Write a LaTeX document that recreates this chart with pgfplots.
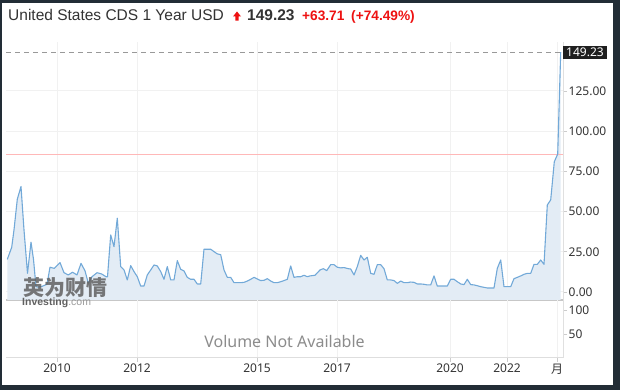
\documentclass[border=0pt]{standalone}
\usepackage{pgfplots}
\pgfplotsset{compat=1.18}
\usepackage{pgfplotstable}
\usepackage{fontspec}
\setmainfont{Liberation Sans}
\newfontfamily\notos{Noto Sans}
\newfontfamily\cjk{Noto Sans CJK SC}

\definecolor{framecol}{HTML}{222D36}
\definecolor{linecol}{HTML}{72A9D8}
\definecolor{areacol}{HTML}{E3ECF5}
\definecolor{gridcol}{HTML}{F1F1F1}
\definecolor{txt}{HTML}{333333}
\definecolor{upred}{HTML}{EE1111}
\definecolor{refred}{HTML}{FFB8B8}

\pgfplotstableread{
x y
7.3 20.3
11.7 27.8
14 38.6
17.3 57.7
21 65.6
24 38.6
27.5 11.6
31 31
33.5 20.3
36 3.3
38 3.0
42 3.5
47 4.8
50 15.4
54.3 14.7
60 18.3
64 12
68.3 10.6
72.5 12.3
77 10.6
81 17.8
85 13.2
88.3 5.5
92 9.5
97 12
101.7 11.2
106 9.5
107.5 9.5
110.7 35.5
114 28.2
117.3 45.9
120.7 15.8
124 13.7
127.3 7.5
130.7 16.4
134 12.7
137.3 9.5
140.7 3.7
144 3.7
147.3 10.6
150.7 13.7
154 16.8
157.3 16.2
160.7 12.7
164 7.9
167.3 15.8
170.7 7.5
174 7.5
177.3 19.5
180.7 14.1
184 13.1
187.3 9.1
190.7 7.9
194 7.9
197.3 5
200.7 5
204 26.6
207.3 26.6
210.7 26.6
214 25.1
217.3 23.7
220.7 23.2
224 13.7
227.3 9.1
230.7 9.1
234 5.8
237.3 5.8
240.7 5.8
244 6
247.3 6.8
250.7 7.9
254 9.1
257.3 8.1
260.7 7.1
264 7.3
267.3 8.3
270.7 6.8
274 5.8
277.3 5.8
280.7 6.4
284 7.1
287.3 7.9
290.7 16.2
294 9.1
297.3 9.5
300.7 9.5
304 10.4
307.3 9.5
310 10
315 10.4
320 13.7
323.3 14.5
326.7 13.3
330.7 17
334 17
337.3 15.4
340.7 15
344 15.2
348.3 14.5
350.7 14.3
354 10.6
357.3 15.8
360.7 22.8
364 19.9
367.3 21.6
370.7 11.6
374 11
377.3 17
380.7 17
384 14.5
387.3 7.5
390.7 7.5
394 7.1
397.3 5.4
400.7 6.8
404 5.8
407.3 5.8
410.7 6.2
414 6
417.3 5
420.7 5
424 4.8
427.3 4.4
430.7 4.4
434 10
437.3 3.7
440.7 3.7
444 3.7
447.3 3.7
450.7 7.9
454 7.9
457.3 6.4
460.7 5
464 4.6
467.3 7.9
470.7 4.6
474 4.4
477.3 3.9
480.7 3.3
484 2.9
487.3 2.5
490.7 2.5
494 2.5
497.3 14.7
500.7 19.9
504 3.3
507.3 3.3
510.7 3.3
514 8.3
517.3 9.1
520.7 10
524 11
527.3 11.6
530.7 11.6
534 17.2
537.3 17.2
540.7 19.9
544 17.2
547.3 54.1
550.7 57.3
554.3 81
557.7 85.8
560.7 149.23
}\cds

\begin{document}
\begin{tikzpicture}
\fill[framecol] (0pt,0pt) rectangle (620pt,390pt);
\fill[white] (2pt,5pt) rectangle (613pt,387pt);

% title
\node[anchor=base west, inner sep=0pt, text=txt, font=\fontsize{15.5}{18}\selectfont] at (8pt,369pt) {United States CDS 1 Year USD};
\fill[upred] (233pt,373.5pt) -- (237pt,378.5pt) -- (241pt,373.5pt) -- (238.6pt,373.5pt) -- (238.6pt,369.3pt) -- (235.4pt,369.3pt) -- (235.4pt,373.5pt) -- cycle;
\node[anchor=base west, inner sep=0pt, text=txt, font=\fontsize{15.5}{18}\selectfont\bfseries] at (247pt,369pt) {149.23};
\node[anchor=base west, inner sep=0pt, text=upred, font=\fontsize{13.7}{16}\selectfont\bfseries] at (302pt,369pt) {+63.71};
\node[anchor=base west, inner sep=0pt, text=upred, font=\fontsize{13.7}{16}\selectfont\bfseries] at (351pt,369pt) {(+74.49\%)};

% main price panel
\begin{axis}[
  at={(6pt,90pt)}, anchor=south west, scale only axis,
  width=557pt, height=258pt,
  xmin=6, xmax=563, ymin=-4.975, ymax=155.47,
  axis x line*=bottom, axis y line*=right,
  x axis line style={draw=black!22, line width=1.3pt},
  y axis line style={draw=black!12, line width=0.8pt},
  xtick={57,137,257,337,450,507,557}, xticklabels={},
  xtick style={draw=none},
  ytick={0,25,50,75,100,125},
  tick align=outside, major tick length=4pt,
  ytick style={draw=black!20, line width=0.8pt},
  grid=major, major grid style={draw=gridcol, line width=1pt},
  y tick label style={/pgf/number format/.cd, fixed, fixed zerofill, precision=2, assume math mode=true, /tikz/.cd, font=\notos\fontsize{12}{14}\selectfont, text=txt, inner sep=1.5pt},
  clip=false,
]
\addplot[fill=areacol, draw=none] table[x=x,y=y] {\cds} -- (axis cs:560.7,-4.975) -- (axis cs:7.3,-4.975) -- cycle;
\addplot[draw=refred, line width=1pt] coordinates {(6,85.52) (563,85.52)};
\addplot[draw=black!40, line width=0.9pt, dash pattern=on 5pt off 4pt] coordinates {(6,149.23) (563,149.23)};
\addplot[draw=linecol, line width=1.1pt, line join=round] table[x=x,y=y] {\cds};
\node[anchor=west, fill=black!88, text=white, inner xsep=3pt, inner ysep=0pt, minimum height=13pt, font=\notos\fontsize{12}{14}\selectfont] at (axis cs:563,149.23) {149.23};
\end{axis}

% volume panel
\begin{axis}[
  at={(6pt,32pt)}, anchor=south west, scale only axis,
  width=557pt, height=58pt,
  xmin=6, xmax=563, ymin=0, ymax=121,
  axis x line*=bottom, axis y line*=right,
  x axis line style={draw=black!13, line width=1pt},
  y axis line style={draw=black!12, line width=0.8pt},
  xtick={57,137,257,337,450,507,557},
  xticklabels={2010,2012,2015,2017,2020,2022,{\cjk 月}},
  ytick={50,100},
  tick align=outside, major tick length=4pt,
  tick style={draw=black!20, line width=0.8pt},
  xmajorgrids, major grid style={draw=gridcol, line width=1pt},
  x tick label style={font=\notos\fontsize{12}{14}\selectfont, text=txt, inner sep=2pt},
  y tick label style={/pgf/number format/.cd, assume math mode=true, /tikz/.cd, font=\notos\fontsize{12}{14}\selectfont, text=txt, inner sep=1.5pt},
  clip=false,
]
\addplot[draw=none] coordinates {(6,0)};
\node[text=black!45, font=\notos\fontsize{16}{18}\selectfont] at (rel axis cs:0.5,0.293) {Volume Not Available};
\end{axis}

% watermark
\node[text=black!62, opacity=0.85, font=\cjk\bfseries\fontsize{21}{23}\selectfont, inner sep=0pt] at (65pt,102.5pt) {英为财情};
\node[anchor=west, inner sep=0pt, font=\fontsize{10.5}{12}\selectfont] at (22pt,87pt) {\textcolor{black!62}{\textbf{Investing}}\textcolor{black!40}{.com}};
\end{tikzpicture}
\end{document}
